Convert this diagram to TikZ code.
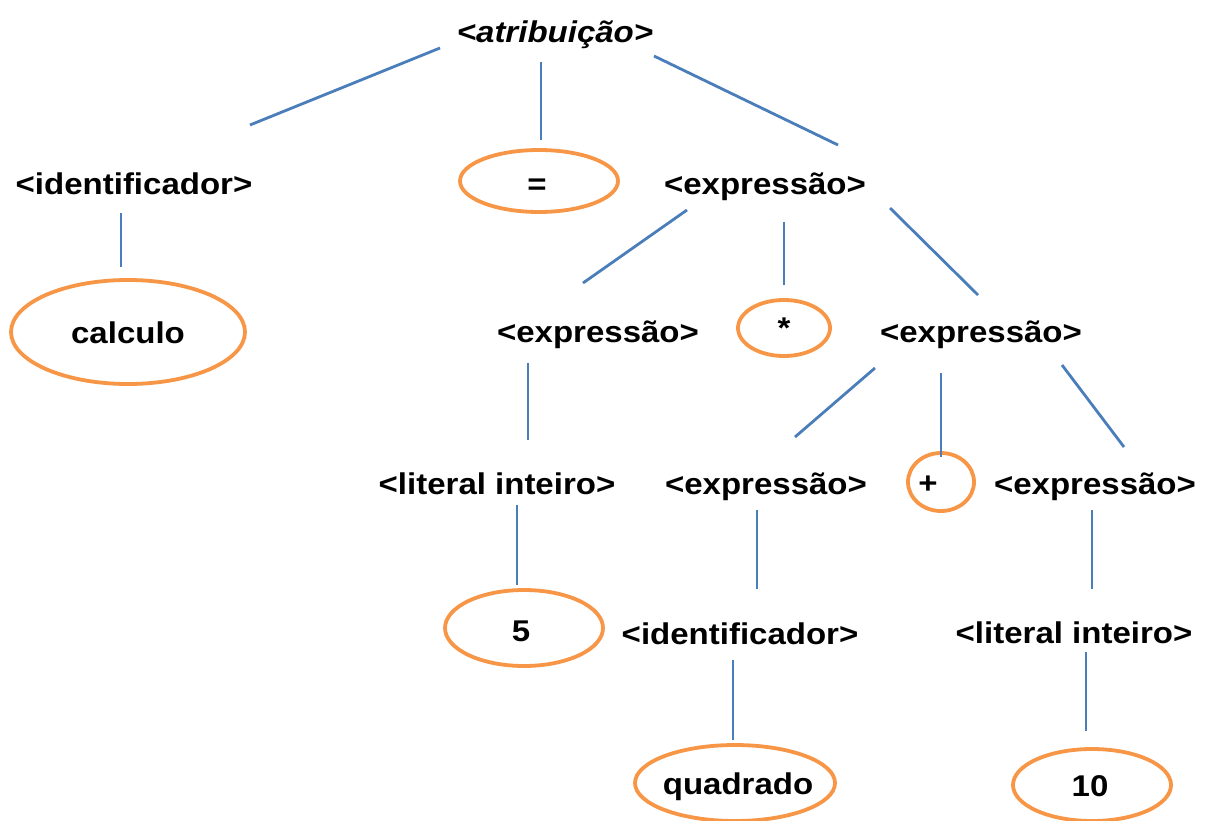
\documentclass[tikz,border=0pt]{standalone}
\usepackage{fontspec}
\usetikzlibrary{calc}
\newfontfamily\lbl{Liberation Sans}[FakeStretch=1.1]
\definecolor{edgeblue}{RGB}{74,126,187}
\definecolor{ovalorange}{RGB}{247,150,70}
\begin{document}
\begin{tikzpicture}[x=1pt,y=-1pt,
  sym/.style={inner sep=0pt, text height=27pt, text depth=4pt,
    font={\lbl\bfseries\fontsize{30}{34}\selectfont}},
  branch/.style={draw=edgeblue, line width=2.8pt},
  oval/.style={draw=ovalorange, line width=3.8pt}]
\useasboundingbox (0,0) rectangle (1207,821);

% nonterminal labels
\node[sym, font={\lbl\bfseries\itshape\fontsize{30}{34}\selectfont}] (atr) at (555,31) {<atribuição>};
\node[sym] (ident1) at (134,183) {<identificador>};
\node[sym] (expr1)  at (765,183) {<expressão>};
\node[sym] (expr2)  at (598,331) {<expressão>};
\node[sym] (expr3)  at (981,331) {<expressão>};
\node[sym] (lit1)   at (497,483) {<literal inteiro>};
\node[sym] (expr4)  at (766,483) {<expressão>};
\node[sym] (expr5)  at (1095,483) {<expressão>};
\node[sym] (ident2) at (740,633) {<identificador>};
\node[sym] (lit2)   at (1074,632) {<literal inteiro>};

% terminal symbols, each circled
\node[sym] (eq)   at (537,183) {=};
\node[sym] (calc) at (128,332) {calculo};
\node[sym] (star) at (784,327) {*};
\node[sym] (plus) at (928,482) {+};
\node[sym] (five) at (521,630) {5};
\node[sym] (quad) at (738,783) {quadrado};
\node[sym] (ten)  at (1090,785) {10};

\draw[oval] ($(eq)+(2,-2)$)   ellipse [x radius=79, y radius=31];
\draw[oval] (calc)            ellipse [x radius=117, y radius=52];
\draw[oval] ($(star)+(0,1)$)  ellipse [x radius=46, y radius=28];
\draw[oval] ($(plus)+(13,0)$) ellipse [x radius=33, y radius=29];
\draw[oval] ($(five)+(3,-2)$) ellipse [x radius=79, y radius=38];
\draw[oval] ($(quad)+(-3,0)$) ellipse [x radius=100, y radius=38];
\draw[oval] ($(ten)+(2,0)$)   ellipse [x radius=79, y radius=36];

% derivation branches
\draw[branch] ($(atr)+(-115,17)$) -- ($(ident1)+(116,-58)$);
\draw[branch] ($(atr)+(-14,31)$)  -- ($(eq)+(4,-43)$);
\draw[branch] ($(atr)+(99,25)$)   -- ($(expr1)+(73,-38)$);
\draw[branch] ($(ident1)+(-13,30)$) -- ($(calc)+(-7,-65)$);
\draw[branch] ($(expr1)+(-78,27)$) -- ($(expr2)+(-15,-48)$);
\draw[branch] ($(expr1)+(19,39)$)  -- ($(star)+(0,-42)$);
\draw[branch] ($(expr1)+(125,25)$) -- ($(expr3)+(-3,-36)$);
\draw[branch] ($(expr2)+(-70,32)$) -- ($(lit1)+(31,-43)$);
\draw[branch] ($(expr3)+(-106,37)$) -- ($(expr4)+(29,-46)$);
\draw[branch] ($(expr3)+(-40,42)$) -- ($(plus)+(13,-25)$);
\draw[branch] ($(expr3)+(81,34)$)  -- ($(expr5)+(29,-36)$);
\draw[branch] ($(lit1)+(20,22)$)   -- ($(five)+(-4,-45)$);
\draw[branch] ($(expr4)+(-9,27)$)  -- ($(ident2)+(17,-44)$);
\draw[branch] ($(expr5)+(-3,27)$)  -- ($(lit2)+(18,-43)$);
\draw[branch] ($(lit2)+(12,20)$)   -- ($(ten)+(-4,-54)$);
\draw[branch] ($(ident2)+(-7,27)$) -- ($(quad)+(-5,-43)$);
\end{tikzpicture}
\end{document}
